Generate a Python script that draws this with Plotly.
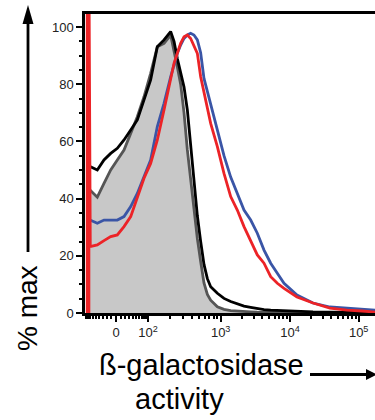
import numpy as np
import plotly.graph_objects as go

# histogram bin positions on the display (biexponential) scale, in decades from 0
bin_pos = [-0.377, -0.271, -0.174, -0.077, 0.019, 0.116, 0.213, 0.309, 0.406, 0.502,
           0.599, 0.696, 0.792, 0.841, 0.889, 0.937, 0.986, 1.034, 1.082, 1.130,
           1.179, 1.227, 1.275, 1.324, 1.372, 1.469, 1.565, 1.662, 1.758, 1.855,
           1.952, 2.048, 2.145, 2.242, 2.338, 2.435, 2.623, 2.855, 3.101, 3.348,
           3.565, 3.754]

gray_pct = [43.0, 40.5, 45.3, 50.0, 53.5, 57.0, 62.8, 68.6, 75.6, 83.8,
            93.1, 94.3, 97.2, 92.0, 86.0, 80.0, 70.0, 57.0, 46.0, 36.0,
            26.0, 18.0, 10.5, 6.5, 4.5, 2.2, 1.3, 0.8, 0.6, 0.5,
            0.4, 0.3, 0.3, 0.2, 0.2, 0.2, 0.1, 0.1, 0.1, 0.0,
            0.0, 0.0]

black_pct = [51.2, 50.0, 53.5, 55.8, 57.6, 60.5, 64.0, 67.5, 74.5, 81.5,
             93.1, 95.5, 98.4, 95.0, 89.0, 84.0, 79.0, 71.0, 58.0, 46.0,
             34.0, 25.0, 17.0, 12.0, 9.2, 6.9, 5.1, 4.0, 3.1, 2.4,
             2.0, 1.5, 1.2, 1.0, 0.9, 0.8, 0.5, 0.4, 0.3, 0.2,
             0.1, 0.1]

blue_pct = [32.5, 31.4, 32.5, 32.5, 32.5, 33.7, 37.2, 41.8, 47.7, 53.5,
            65.2, 73.3, 82.6, 86.7, 90.8, 93.7, 96.0, 97.2, 97.8, 97.2,
            95.5, 91.0, 82.0, 77.5, 73.0, 64.5, 55.0, 47.5, 42.0, 36.0,
            32.5, 27.9, 22.0, 17.4, 13.9, 10.4, 6.3, 3.5, 2.1, 1.7,
            1.2, 1.0]

red_pct = [23.2, 23.8, 25.3, 26.7, 27.3, 30.2, 33.7, 40.7, 47.1, 52.3,
           60.5, 71.0, 82.6, 87.3, 90.8, 94.3, 96.6, 97.2, 96.0, 93.7,
           90.8, 82.6, 76.8, 71.0, 66.3, 58.2, 48.8, 40.7, 36.0, 30.2,
           25.5, 20.3, 17.4, 12.7, 10.4, 8.6, 5.6, 3.5, 1.7, 1.0,
           0.7, 0.3]

# off-scale first bin of the red histogram
red_edge_pos = [-0.405, -0.405, -0.385]
red_edge_pct = [0.0, 125.0, 23.2]

x_tick_pos = [0.0, 0.464, 1.517, 2.522, 3.517]
x_tick_text = ["0", "10<sup>2</sup>", "10<sup>3</sup>", "10<sup>4</sup>", "10<sup>5</sup>"]
y_tick_vals = [0, 20, 40, 60, 80, 100]

W, H = 375, 420
L, R, T, B = 85, 0, 14, 107
PW, PH = W - L - R, H - T - B


def px(x):
    return (x - L) / PW


def py(y):
    return (H - B - y) / PH


# minor tick positions on the display scale
minor_x = []
for lo, hi in zip(x_tick_pos[1:-1], x_tick_pos[2:]):
    for k in range(2, 10):
        minor_x.append(lo + np.log10(k) * (hi - lo))
for v in range(10, 100, 10):
    p = x_tick_pos[1] * np.arcsinh(v / 40) / np.arcsinh(2.5)
    minor_x += [p, -p]

FONT = "Liberation Sans, Arial, Helvetica, sans-serif"
LW = 2.8
RED = "#ec2327"

fig = go.Figure()
fig.add_trace(go.Scatter(x=bin_pos, y=gray_pct, mode="lines", fill="tozeroy",
                         fillcolor="#c8c8c8", line=dict(color="#555555", width=LW),
                         hoverinfo="skip"))
fig.add_trace(go.Scatter(x=bin_pos, y=black_pct, mode="lines",
                         line=dict(color="#000000", width=LW), hoverinfo="skip"))
fig.add_trace(go.Scatter(x=bin_pos, y=blue_pct, mode="lines",
                         line=dict(color="#3a55a6", width=LW), hoverinfo="skip"))
fig.add_trace(go.Scatter(x=bin_pos, y=red_pct, mode="lines",
                         line=dict(color=RED, width=LW), hoverinfo="skip"))
fig.add_trace(go.Scatter(x=red_edge_pos, y=red_edge_pct, mode="lines",
                         line=dict(color=RED, width=4.5), hoverinfo="skip"))

x_lo = (L - 116) / 69
x_hi = (W - R - 116) / 69

fig.update_layout(
    width=W, height=H,
    margin=dict(l=L, r=R, t=T, b=B),
    paper_bgcolor="white", plot_bgcolor="white",
    showlegend=False,
    font=dict(family=FONT, color="#222222"),
    xaxis=dict(range=[x_lo, x_hi], tickmode="array", tickvals=x_tick_pos,
               ticktext=x_tick_text, ticks="outside", ticklen=6, tickwidth=2,
               tickcolor="black", showline=True, linewidth=2.5, linecolor="black",
               mirror=True, showgrid=False, zeroline=False,
               tickfont=dict(size=13, color="#222222"),
               minor=dict(tickmode="array", tickvals=minor_x, ticks="outside",
                          ticklen=3, tickwidth=1.5, tickcolor="black", showgrid=False)),
    yaxis=dict(range=[0, (H - B - T) / 2.86], tickmode="array", tickvals=y_tick_vals,
               ticks="outside", ticklen=6, tickwidth=2, tickcolor="black",
               showline=True, linewidth=2.5, linecolor="black",
               showgrid=False, zeroline=False,
               tickfont=dict(size=13, color="#222222"),
               minor=dict(dtick=5, ticks="outside", ticklen=3, tickwidth=2,
                          tickcolor="black", showgrid=False)),
)

# arrows
shapes = []
shapes.append(dict(type="line", xref="paper", yref="paper",
                   x0=px(28), x1=px(28), y0=py(252), y1=py(22),
                   line=dict(color="black", width=2.8)))
shapes.append(dict(type="path", xref="paper", yref="paper",
                   path=f"M {px(22.5)} {py(24)} L {px(33.5)} {py(24)} L {px(28)} {py(5)} Z",
                   fillcolor="black", line=dict(color="black", width=0)))
shapes.append(dict(type="line", xref="paper", yref="paper",
                   x0=px(310), x1=px(368), y0=py(374.5), y1=py(374.5),
                   line=dict(color="black", width=2.8)))
shapes.append(dict(type="path", xref="paper", yref="paper",
                   path=f"M {px(366)} {py(369)} L {px(366)} {py(380)} L {px(377)} {py(374.5)} Z",
                   fillcolor="black", line=dict(color="black", width=0)))
fig.update_layout(shapes=shapes)

annos = [
    dict(text="% max", x=px(27), y=py(308), textangle=-90, font=dict(size=28, color="black")),
    dict(text="ß-galactosidase", x=px(201), y=py(365), font=dict(size=29, color="black")),
    dict(text="activity", x=px(179), y=py(399), font=dict(size=29, color="black")),
]
for a in annos:
    fig.add_annotation(xref="paper", yref="paper", xanchor="center", yanchor="middle",
                       showarrow=False, **a)

fig.write_html("out.html")
